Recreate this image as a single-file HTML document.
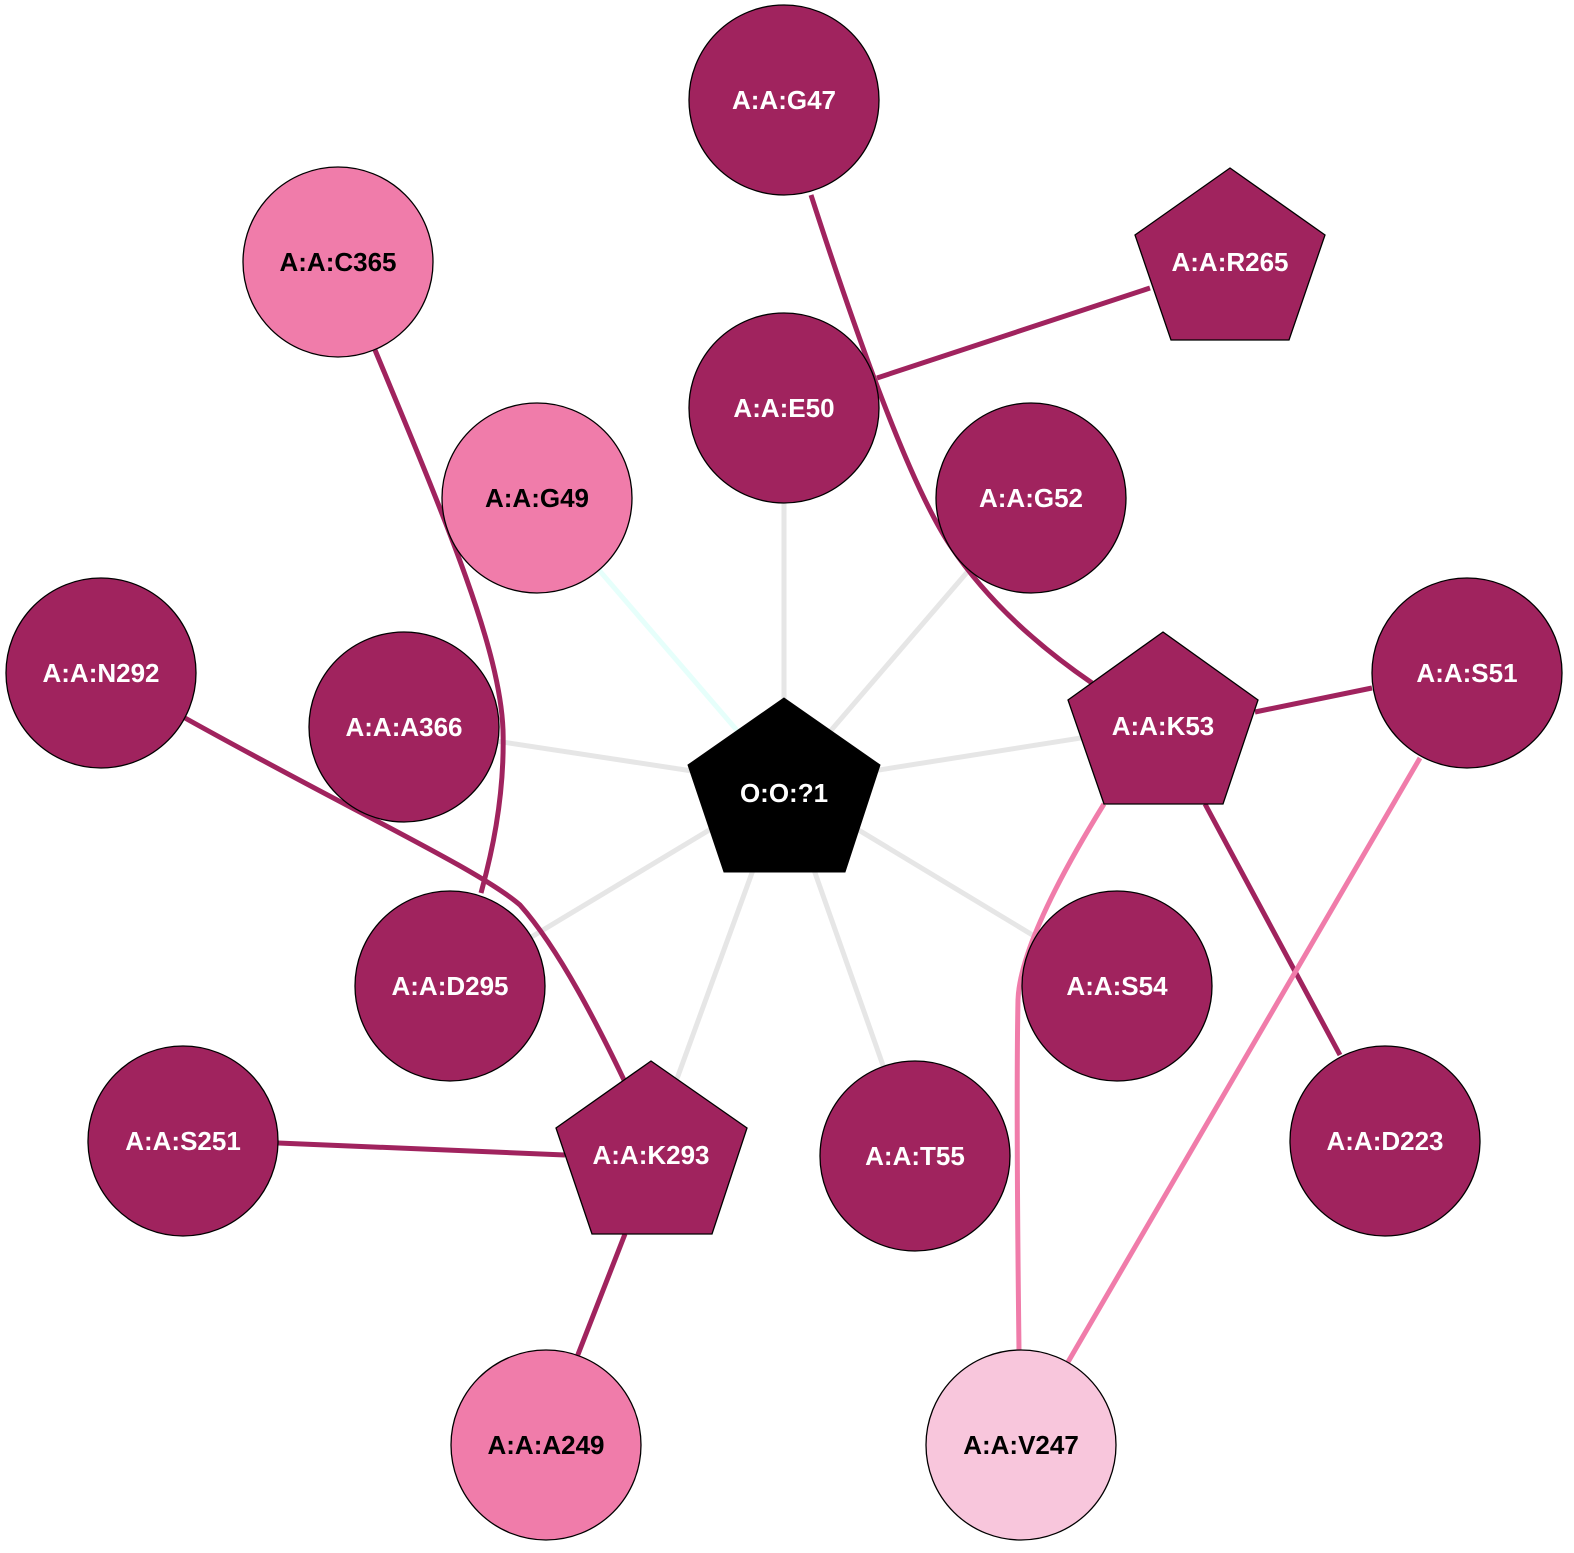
<!DOCTYPE html>
<html><head><meta charset="utf-8"><style>
html,body{margin:0;padding:0;background:#fff;}
svg{display:block;}
text{font-family:"Liberation Sans",Arial,sans-serif;font-weight:bold;font-size:26px;text-anchor:middle;dominant-baseline:central;}
.d{fill:#a0235e;stroke:#000;stroke-width:1.3;}
.p{fill:#f07caa;stroke:#000;stroke-width:1.3;}
.l{fill:#f8c6dc;stroke:#000;stroke-width:1.3;}
.w{fill:#fff;} .b{fill:#000;}
</style></head><body>
<svg width="1574" height="1553" viewBox="0 0 1574 1553" xmlns="http://www.w3.org/2000/svg">
<g fill="none" stroke-width="5">
<g stroke="#e6e6e6">
<line x1="784" y1="785" x2="784" y2="408"/>
<line x1="784" y1="785" x2="1031" y2="498"/>
<line x1="784" y1="785" x2="404" y2="727"/>
<line x1="784" y1="785" x2="1163" y2="725"/>
<line x1="784" y1="785" x2="1117" y2="986"/>
<line x1="784" y1="785" x2="915" y2="1156"/>
<line x1="784" y1="785" x2="651" y2="1150"/>
<line x1="784" y1="785" x2="450" y2="986"/>
</g>
<line x1="784" y1="785" x2="537" y2="498" stroke="#e6fffb"/>
<g stroke="#a0235e">
<path d="M811,195 Q900,470 950,545 Q1000,620 1092,683"/>
<line x1="1150" y1="288" x2="877" y2="378"/>
<path d="M375,350 C450,530 500,650 503,730 C505,800 490,860 481,893"/>
<path d="M185,718 C350,810 480,870 520,905 C560,950 600,1030 624,1080"/>
<line x1="278" y1="1143" x2="565" y2="1155"/>
<line x1="625" y1="1234" x2="577" y2="1357"/>
<line x1="1255" y1="712" x2="1372" y2="688"/>
<line x1="1205" y1="804" x2="1340" y2="1055"/>
</g>
<g stroke="#f07caa">
<path d="M1104,804 Q1020,940 1018,1000 Q1016,1100 1019,1350"/>
<line x1="1420" y1="758" x2="1068" y2="1362"/>
</g>
</g>
<circle class="d" cx="784" cy="100" r="95"/><text class="w" x="784" y="100">A:A:G47</text>
<circle class="p" cx="338" cy="262" r="95"/><text class="b" x="338" y="262">A:A:C365</text>
<polygon class="d" points="1230,168 1325,235 1289,340 1171,340 1135,235"/><text class="w" x="1230" y="262">A:A:R265</text>
<circle class="d" cx="784" cy="408" r="95"/><text class="w" x="784" y="408">A:A:E50</text>
<circle class="p" cx="537" cy="498" r="95"/><text class="b" x="537" y="498">A:A:G49</text>
<circle class="d" cx="1031" cy="498" r="95"/><text class="w" x="1031" y="498">A:A:G52</text>
<circle class="d" cx="101" cy="673" r="95"/><text class="w" x="101" y="673">A:A:N292</text>
<circle class="d" cx="404" cy="727" r="95"/><text class="w" x="404" y="727">A:A:A366</text>
<polygon class="d" points="1163,632 1258,700 1223,804 1104,804 1068,700"/><text class="w" x="1163" y="726">A:A:K53</text>
<circle class="d" cx="1467" cy="673" r="95"/><text class="w" x="1467" y="673">A:A:S51</text>
<polygon fill="#000" stroke="#000" points="784,698 880,765 845,872 724,872 688,765"/><text class="w" x="784" y="793">O:O:?1</text>
<circle class="d" cx="450" cy="986" r="95"/><text class="w" x="450" y="986">A:A:D295</text>
<circle class="d" cx="1117" cy="986" r="95"/><text class="w" x="1117" y="986">A:A:S54</text>
<circle class="d" cx="183" cy="1141" r="95"/><text class="w" x="183" y="1141">A:A:S251</text>
<polygon class="d" points="651,1061 747,1128 712,1234 592,1234 556,1128"/><text class="w" x="651" y="1155">A:A:K293</text>
<circle class="d" cx="915" cy="1156" r="95"/><text class="w" x="915" y="1156">A:A:T55</text>
<circle class="d" cx="1385" cy="1141" r="95"/><text class="w" x="1385" y="1141">A:A:D223</text>
<circle class="p" cx="546" cy="1445" r="95"/><text class="b" x="546" y="1445">A:A:A249</text>
<circle class="l" cx="1021" cy="1445" r="95"/><text class="b" x="1021" y="1445">A:A:V247</text>
</svg>
</body></html>
